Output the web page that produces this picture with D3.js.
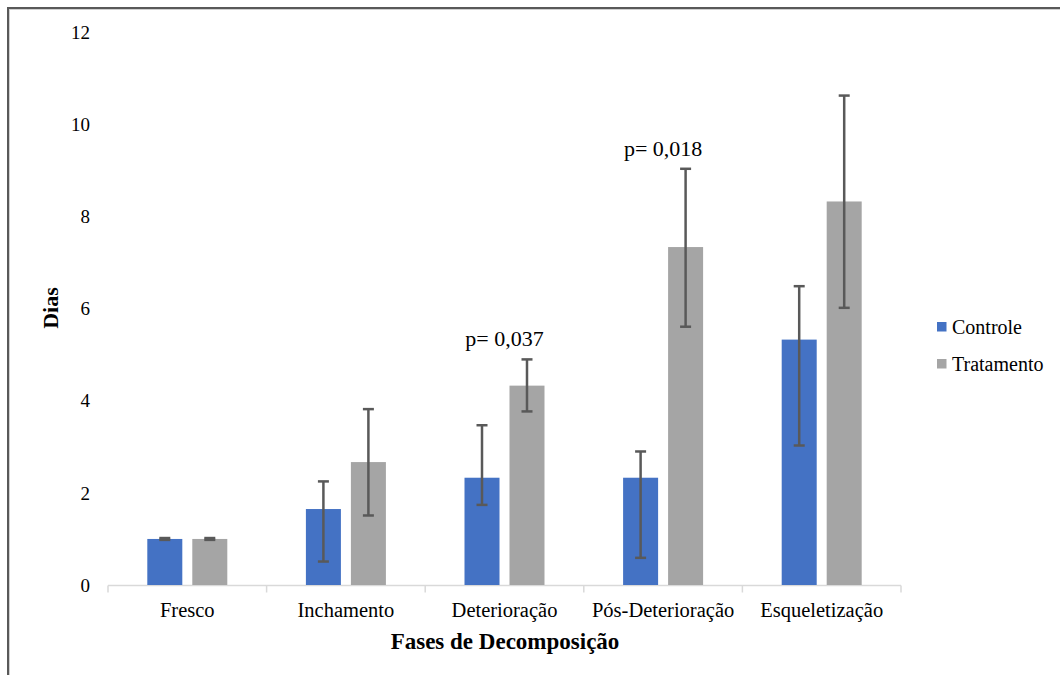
<!DOCTYPE html>
<meta charset="utf-8">
<script src="https://d3js.org/d3.v7.min.js"></script>
<style>
  body { margin: 0; background: #fff; }
  text { font-family: "Liberation Serif", "Times New Roman", serif; fill: #000; }
</style>
<body>
<svg id="chart" width="1060" height="675"></svg>
<script>

// data
var categories = ["Fresco", "Inchamento", "Deterioração", "Pós-Deterioração", "Esqueletização"];
var series = ["Controle", "Tratamento"];
var controle = [1.0, 1.65, 2.33, 2.33, 5.33];
var tratamento = [1.0, 2.67, 4.33, 7.34, 8.33];
// error bar ends (low / high)
var controleLow = [0.98, 0.51, 1.74, 0.59, 3.03];
var controleHigh = [1.02, 2.25, 3.47, 2.90, 6.49];
var tratamentoLow = [0.98, 1.51, 3.77, 5.61, 6.02];
var tratamentoHigh = [1.02, 3.82, 4.90, 9.04, 10.63];
var pLabels = [null, null, "p= 0,037", "p= 0,018", null];
var yTicks = [0, 2, 4, 6, 8, 10, 12];

var colors = {"Controle": "#4472C4", "Tratamento": "#A5A5A5"};

var svg = d3.select("#chart");

// frame (only top and left edges show in the picture)
svg.append("line").attr("x1", 8).attr("x2", 1060).attr("y1", 8).attr("y2", 8)
  .attr("stroke", "#595959").attr("stroke-width", 2);
svg.append("line").attr("x1", 8).attr("x2", 1060).attr("y1", 9.5).attr("y2", 9.5)
  .attr("stroke", "#d0d0d0").attr("stroke-width", 1);
svg.append("line").attr("x1", 8).attr("x2", 8).attr("y1", 7).attr("y2", 675)
  .attr("stroke", "#595959").attr("stroke-width", 2);
svg.append("line").attr("x1", 9.5).attr("x2", 9.5).attr("y1", 9).attr("y2", 675)
  .attr("stroke", "#d0d0d0").attr("stroke-width", 1);

var x0 = d3.scaleBand().domain(categories).range([108, 901]);
var x1 = d3.scaleBand().domain(series).range([0, 80]).paddingInner(0.222);
var inner = (x0.bandwidth() - 80) / 2;
var y = d3.scaleLinear().domain([0, 12]).range([585, 32.5]);

// y tick labels (no axis line, no gridlines)
svg.append("g").selectAll("text")
  .data(yTicks).enter().append("text")
  .attr("x", 90)
  .attr("y", d => y(d))
  .attr("dy", "0.35em")
  .attr("text-anchor", "end")
  .style("font-size", "19px")
  .text(d => d);

// x axis
var xAxis = svg.append("g").attr("transform", "translate(0,585.5)");
xAxis.append("line").attr("x1", 108).attr("x2", 901)
  .attr("stroke", "#d9d9d9").attr("stroke-width", 1.5);
var bounds = categories.map(c => x0(c)).concat([901]);
xAxis.selectAll(".tk").data(bounds).enter().append("line")
  .attr("x1", d => d).attr("x2", d => d).attr("y1", 0).attr("y2", 7)
  .attr("stroke", "#d9d9d9").attr("stroke-width", 1.5);
xAxis.selectAll(".lbl").data(categories).enter().append("text")
  .attr("x", d => x0(d) + x0.bandwidth() / 2)
  .attr("y", 31)
  .attr("text-anchor", "middle")
  .style("font-size", "20.5px")
  .text(d => d);

// bars
var rows = categories.map(function(c, i) {
  return [
    {cat: c, s: "Controle", v: controle[i], lo: controleLow[i], hi: controleHigh[i]},
    {cat: c, s: "Tratamento", v: tratamento[i], lo: tratamentoLow[i], hi: tratamentoHigh[i]}
  ];
});
var flat = rows.flat();

svg.append("g").selectAll("rect")
  .data(flat).enter().append("rect")
  .attr("x", d => x0(d.cat) + inner + x1(d.s))
  .attr("y", d => y(d.v))
  .attr("width", x1.bandwidth())
  .attr("height", d => y(0) - y(d.v))
  .attr("fill", d => colors[d.s]);

// error bars
var eb = svg.append("g").attr("stroke", "#595959").attr("stroke-width", 2.5);
flat.forEach(function(d) {
  var cx = x0(d.cat) + inner + x1(d.s) + x1.bandwidth() / 2;
  eb.append("line").attr("x1", cx).attr("x2", cx).attr("y1", y(d.lo)).attr("y2", y(d.hi));
  eb.append("line").attr("x1", cx - 5.5).attr("x2", cx + 5.5).attr("y1", y(d.lo)).attr("y2", y(d.lo));
  eb.append("line").attr("x1", cx - 5.5).attr("x2", cx + 5.5).attr("y1", y(d.hi)).attr("y2", y(d.hi));
});

// p-value annotations above Tratamento error bars
categories.forEach(function(c, i) {
  if (!pLabels[i]) return;
  svg.append("text")
    .attr("x", x0(c) + x0.bandwidth() / 2)
    .attr("y", y(tratamentoHigh[i]) - 13)
    .attr("text-anchor", "middle")
    .style("font-size", "22px")
    .text(pLabels[i]);
});

// axis titles
svg.append("text")
  .attr("transform", "translate(58,308) rotate(-90)")
  .attr("text-anchor", "middle")
  .style("font-size", "22px").style("font-weight", "bold")
  .text("Dias");
svg.append("text")
  .attr("x", 505).attr("y", 649)
  .attr("text-anchor", "middle")
  .style("font-size", "23px").style("font-weight", "bold")
  .text("Fases de Decomposição");

// legend
var lg = svg.append("g").selectAll("g")
  .data(series).enter().append("g")
  .attr("transform", (d, i) => "translate(937," + (322 + i * 37) + ")");
lg.append("rect").attr("width", 9.5).attr("height", 9.5).attr("fill", d => colors[d]);
lg.append("text").attr("x", 15).attr("y", 5).attr("dy", "0.35em")
  .style("font-size", "20px").text(d => d);

</script>
</body>
